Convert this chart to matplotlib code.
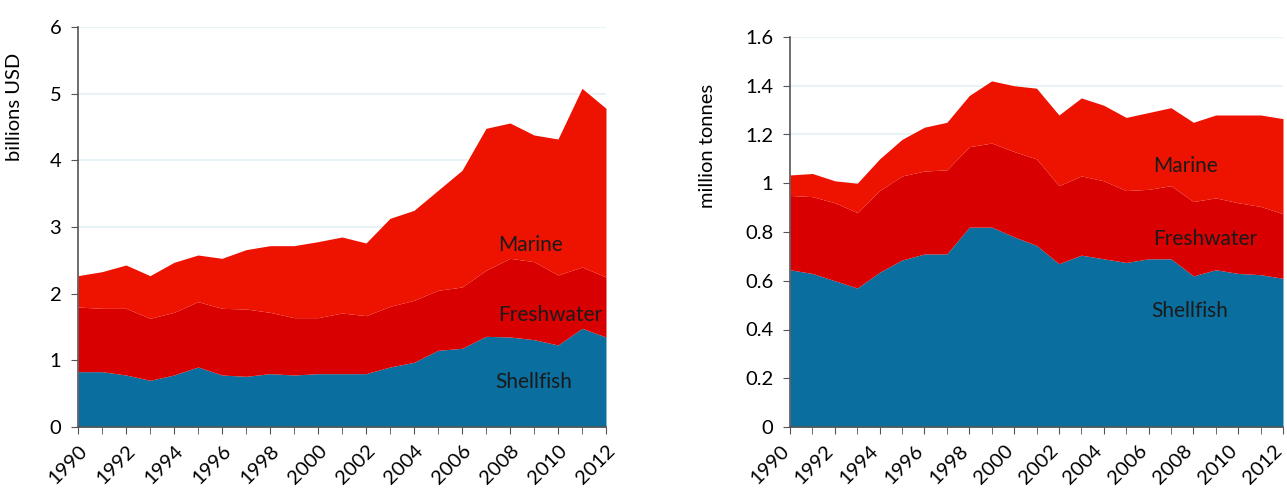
import matplotlib
matplotlib.use("Agg")
import matplotlib.pyplot as plt
import matplotlib.transforms as mtransforms
from matplotlib.ticker import MultipleLocator, FuncFormatter

years = list(range(1990, 2013))

# Left chart: value (billions USD), cumulative tops
val_total = [2.27, 2.33, 2.43, 2.27, 2.47, 2.58, 2.53, 2.66, 2.72, 2.72, 2.78, 2.85, 2.76,
             3.13, 3.25, 3.55, 3.85, 4.48, 4.56, 4.38, 4.32, 5.08, 4.78]
val_fresh_top = [1.80, 1.78, 1.78, 1.63, 1.72, 1.88, 1.78, 1.77, 1.72, 1.64, 1.64, 1.71, 1.67,
                 1.81, 1.90, 2.05, 2.10, 2.35, 2.53, 2.48, 2.28, 2.40, 2.25]
val_shell = [0.83, 0.83, 0.78, 0.70, 0.78, 0.90, 0.78, 0.76, 0.80, 0.78, 0.80, 0.80, 0.80,
             0.90, 0.97, 1.15, 1.18, 1.36, 1.35, 1.31, 1.23, 1.48, 1.35]

# Right chart: volume (million tonnes), cumulative tops
vol_total = [1.034, 1.04, 1.01, 1.00, 1.10, 1.18, 1.23, 1.25, 1.36, 1.42, 1.40, 1.39, 1.28,
             1.35, 1.32, 1.27, 1.29, 1.31, 1.25, 1.28, 1.28, 1.28, 1.265]
vol_fresh_top = [0.95, 0.945, 0.92, 0.88, 0.97, 1.03, 1.05, 1.055, 1.15, 1.165, 1.13, 1.10, 0.99,
                 1.03, 1.01, 0.97, 0.975, 0.99, 0.925, 0.94, 0.92, 0.905, 0.875]
vol_shell = [0.645, 0.63, 0.60, 0.57, 0.635, 0.685, 0.71, 0.71, 0.82, 0.82, 0.78, 0.745, 0.67,
             0.705, 0.69, 0.675, 0.69, 0.69, 0.62, 0.645, 0.63, 0.625, 0.61]

series_names = ["Marine", "Freshwater", "Shellfish"]

C_SHELL = "#0A6E9E"
C_FRESH = "#D80000"
C_MARINE = "#EE1200"
GRID = "#E3F1F5"
AXC = "#555555"

plt.rcParams['font.family'] = ['Lato', 'DejaVu Sans']

fig = plt.figure(figsize=(12.87, 4.9), dpi=100)
axL = fig.add_axes([78/1287, 63/490, 528/1287, 400/490])
axR = fig.add_axes([790/1287, 63/490, 493/1287, 390/490])


def fmt(v, pos):
    s = f"{v:.1f}".rstrip('0').rstrip('.')
    return s


def draw(ax, total, fresh_top, shell, ymax, ystep, ylabel, label_pos, xshift):
    ax.fill_between(years, 0, shell, color=C_SHELL, lw=0, zorder=2)
    ax.fill_between(years, shell, fresh_top, color=C_FRESH, lw=0, zorder=2)
    ax.fill_between(years, fresh_top, total, color=C_MARINE, lw=0, zorder=2)
    ax.set_xlim(1990, 2012)
    ax.set_ylim(0, ymax)
    ax.yaxis.set_major_locator(MultipleLocator(ystep))
    ax.yaxis.set_major_formatter(FuncFormatter(fmt))
    ax.xaxis.set_major_locator(MultipleLocator(2))
    ax.xaxis.set_minor_locator(MultipleLocator(1))
    ax.grid(axis='y', color=GRID, lw=1.2, zorder=0)
    for s in ['top', 'right']:
        ax.spines[s].set_visible(False)
    for s in ['left', 'bottom']:
        ax.spines[s].set_color(AXC)
        ax.spines[s].set_linewidth(1.2)
    ax.tick_params(axis='y', direction='out', length=5, color=AXC, labelsize=14.5, pad=7)
    ax.tick_params(axis='x', which='both', direction='out', length=5, color=AXC,
                   labelsize=14.5, pad=6)
    offset = mtransforms.ScaledTranslation(xshift / 100.0, 0, fig.dpi_scale_trans)
    for lab in ax.get_xticklabels():
        lab.set_rotation(45)
        lab.set_ha('right')
        lab.set_va('top')
        lab.set_rotation_mode('anchor')
        lab.set_transform(lab.get_transform() + offset)
    ax.set_ylabel(ylabel, fontsize=14.5)
    for name, (x, y) in zip(series_names, label_pos):
        ax.text(x, y, name, fontsize=15, color='#1a1a1a', ha='left', va='center', zorder=5)


draw(axL, val_total, val_fresh_top, val_shell, 6, 1, "billions USD",
     [(2007.5, 2.73), (2007.5, 1.68), (2007.4, 0.68)], 0)
draw(axR, vol_total, vol_fresh_top, vol_shell, 1.6, 0.2, "million tonnes",
     [(2006.2, 1.07), (2006.2, 0.77), (2006.1, 0.475)], -10)
axL.yaxis.set_label_coords(-0.105, 0.8)
axR.yaxis.set_label_coords(-0.15, 0.72)

fig.savefig("out.png", dpi=100)
